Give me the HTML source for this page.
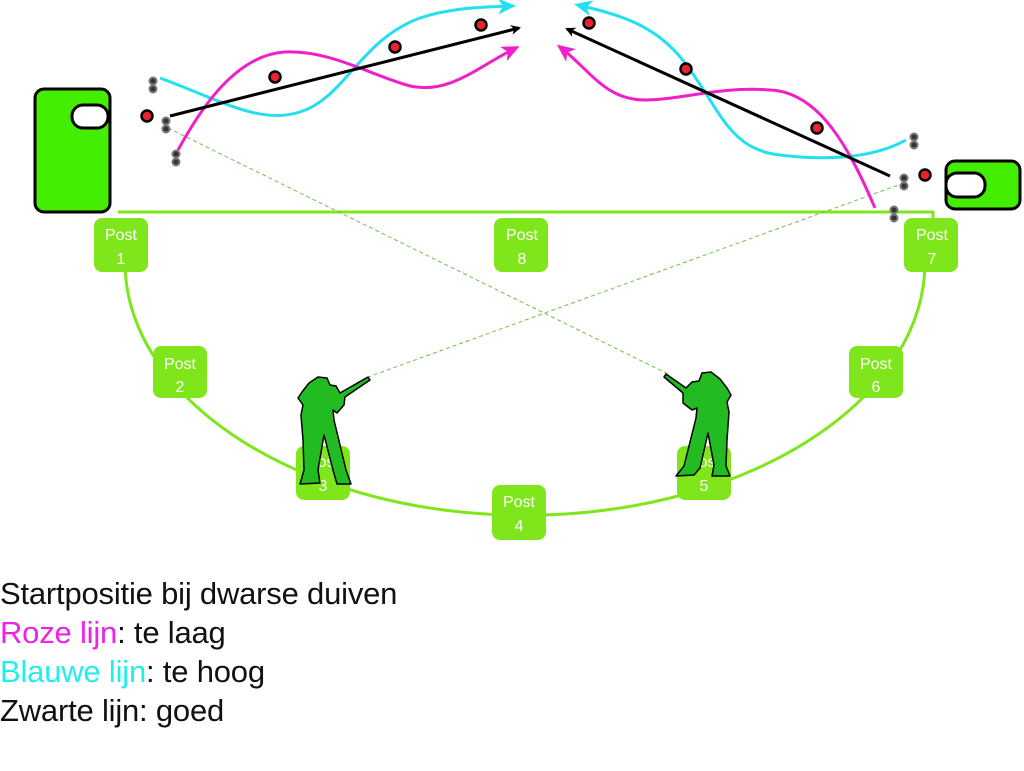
<!DOCTYPE html>
<html><head><meta charset="utf-8"><style>
html,body{margin:0;padding:0;background:#fff;}
body{width:1024px;height:771px;overflow:hidden;position:relative;font-family:"Liberation Sans",sans-serif;}
.t{position:absolute;left:0;font-size:31px;color:#111;white-space:nowrap;letter-spacing:-0.2px}
</style></head><body>
<svg width="1024" height="771" style="position:absolute;left:0;top:0" xmlns="http://www.w3.org/2000/svg">
<defs>
<marker id="ab" markerWidth="10" markerHeight="10" refX="8" refY="5" orient="auto" markerUnits="userSpaceOnUse"><path d="M0,0 L10,5 L0,10 L3,5z" fill="#000"/></marker>
<marker id="ac" markerWidth="18" markerHeight="16" refX="14" refY="8" orient="auto" markerUnits="userSpaceOnUse"><path d="M0,0 L18,8 L0,16 L5,8z" fill="#22e0ee"/></marker>
<marker id="am" markerWidth="18" markerHeight="16" refX="14" refY="8" orient="auto" markerUnits="userSpaceOnUse"><path d="M0,0 L18,8 L0,16 L5,8z" fill="#f020c8"/></marker>
</defs>
<path d="M118,212 L933,212 L933,230" fill="none" stroke="#7ee61a" stroke-width="3"/>
<path d="M125,262 A398,252 0 0 0 925,262" fill="none" stroke="#7ee61a" stroke-width="3"/>
<line x1="168" y1="128" x2="668" y2="374" stroke="#6cc04a" stroke-width="1" stroke-dasharray="4,3"/>
<line x1="904" y1="183" x2="368" y2="377" stroke="#6cc04a" stroke-width="1" stroke-dasharray="4,3"/>
<rect x="35" y="89" width="75" height="123" rx="9" fill="#44ee00" stroke="#000" stroke-width="3"/>
<rect x="72" y="105" width="36" height="23" rx="11" fill="#fff" stroke="#000" stroke-width="3"/>
<rect x="946" y="161" width="74" height="48" rx="9" fill="#44ee00" stroke="#000" stroke-width="3"/>
<rect x="946" y="173" width="39" height="24" rx="11" fill="#fff" stroke="#000" stroke-width="3"/>
<path d="M160,78 C220,100 260,125 300,112 C345,98 360,40 420,18 C450,8 480,7 512,6" fill="none" stroke="#22e0ee" stroke-width="3" marker-end="url(#ac)"/>
<path d="M178,150 C200,110 235,55 285,52 C330,50 370,75 410,86 C450,95 480,65 516,48" fill="none" stroke="#f020c8" stroke-width="3" marker-end="url(#am)"/>
<line x1="170" y1="116" x2="519" y2="28" stroke="#000" stroke-width="3" marker-end="url(#ab)"/>
<path d="M906,140 C870,160 820,160 780,155 C730,150 720,110 690,70 C660,25 620,15 578,5" fill="none" stroke="#22e0ee" stroke-width="3" marker-end="url(#ac)"/>
<path d="M875,208 C850,150 820,92 770,90 C720,86 680,100 645,100 C605,100 590,70 560,47" fill="none" stroke="#f020c8" stroke-width="3" marker-end="url(#am)"/>
<line x1="890" y1="176" x2="567" y2="29" stroke="#000" stroke-width="3" marker-end="url(#ab)"/>
<g fill="#e8232a" stroke="#000" stroke-width="2.5">
<circle cx="147" cy="116" r="5.5"/><circle cx="275" cy="77" r="5.5"/><circle cx="395" cy="47" r="5.5"/><circle cx="481" cy="25" r="5.5"/>
<circle cx="589" cy="23" r="5.5"/><circle cx="686" cy="69" r="5.5"/><circle cx="817" cy="128" r="5.5"/><circle cx="925" cy="175" r="5.5"/>
</g>
<g fill="#333" stroke="#777" stroke-width="2">
<circle cx="153" cy="81" r="3.5"/><circle cx="153" cy="89" r="3.5"/>
<circle cx="166" cy="121" r="3.5"/><circle cx="166" cy="129" r="3.5"/>
<circle cx="176" cy="154" r="3.5"/><circle cx="176" cy="162" r="3.5"/>
<circle cx="914" cy="137" r="3.5"/><circle cx="914" cy="145" r="3.5"/>
<circle cx="904" cy="178" r="3.5"/><circle cx="904" cy="186" r="3.5"/>
<circle cx="894" cy="210" r="3.5"/><circle cx="894" cy="218" r="3.5"/>
</g>
<g fill="#7ee61a">
<rect x="94" y="218" width="54" height="54" rx="8"/>
<rect x="494" y="218" width="54" height="54" rx="8"/>
<rect x="904" y="218" width="54" height="54" rx="8"/>
<rect x="153" y="346" width="54" height="52" rx="8"/>
<rect x="849" y="346" width="54" height="52" rx="8"/>
<rect x="296" y="446" width="54" height="54" rx="8"/>
<rect x="677" y="446" width="54" height="54" rx="8"/>
<rect x="492" y="485" width="54" height="55" rx="8"/>
</g>
<g fill="#fff" font-family="Liberation Sans, sans-serif" font-size="16" text-anchor="middle">
<text x="121" y="240">Post</text><text x="121" y="264">1</text>
<text x="522" y="240">Post</text><text x="522" y="264">8</text>
<text x="932" y="240">Post</text><text x="932" y="264">7</text>
<text x="180" y="369">Post</text><text x="180" y="392">2</text>
<text x="876" y="369">Post</text><text x="876" y="392">6</text>
<text x="323" y="467">Post</text><text x="323" y="491">3</text>
<text x="704" y="467">Post</text><text x="704" y="491">5</text>
<text x="519" y="507">Post</text><text x="519" y="531">4</text>
</g>
<g fill="#22bb22" stroke="#000" stroke-width="1.5" stroke-linejoin="round">
<path d="M309,383 L318,377 L327,378 L330,385 L336,386 L340,393 L368,377 L370,380 L345,397 L344,405 L337,413 L333,410 L334,420 L346,470 L351,484 L337,484 L333,470 L324,435 L318,470 L320,483 L300,484 L304,470 L303,440 L301,415 L303,405 L298,398 L302,392 Z"/>
<path d="M720,379 L711,372 L702,373 L699,381 L692,382 L686,388 L666,374 L664,377 L683,393 L683,403 L692,410 L697,408 L696,418 L684,466 L676,476 L694,475 L700,468 L708,433 L714,465 L712,476 L730,476 L726,466 L727,440 L729,412 L727,402 L731,395 L727,388 Z"/>
</g>
</svg>
<div class="t" style="top:576px">Startpositie bij dwarse duiven</div>
<div class="t" style="top:615px"><span style="color:#f020e8">Roze lijn</span>: te laag</div>
<div class="t" style="top:654px"><span style="color:#22eef0">Blauwe lijn</span>: te hoog</div>
<div class="t" style="top:693px">Zwarte lijn: goed</div>
</body></html>
